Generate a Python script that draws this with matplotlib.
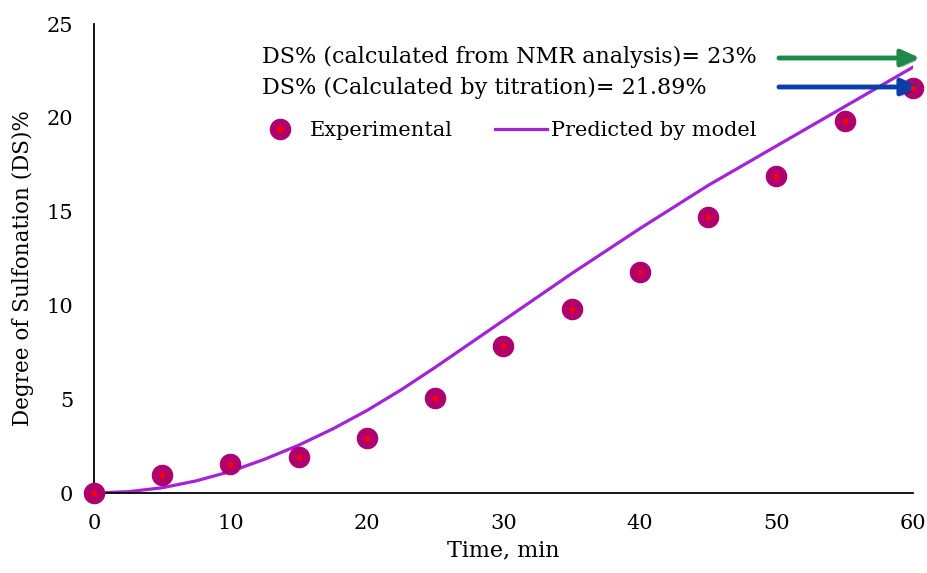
import numpy as np
import matplotlib.pyplot as plt
import matplotlib.patheffects as pe
from matplotlib.lines import Line2D

# experimental data
time_exp = [0, 5, 10, 15, 20, 25, 30, 35, 40, 45, 50, 55, 60]
ds_exp = [0, 0.96, 1.55, 1.92, 2.93, 5.06, 7.84, 9.81, 11.78, 14.71, 16.9, 19.83, 21.6]

# model curve
time_mod = [0, 2.5, 5, 7.5, 10, 12.5, 15, 17.5, 20, 22.5, 25, 27.5, 30,
            32.5, 35, 37.5, 40, 42.5, 45, 47.5, 50, 52.5, 55, 57.5, 60]
ds_mod = [0, 0.07, 0.28, 0.65, 1.15, 1.8, 2.55, 3.42, 4.4, 5.5, 6.7, 7.95, 9.2,
          10.45, 11.7, 12.9, 14.1, 15.25, 16.4, 17.45, 18.5, 19.55, 20.6, 21.65, 22.7]

plt.rcParams['font.family'] = ['DejaVu Serif']

fig = plt.figure(figsize=(9.28, 5.73), dpi=100)
ax = fig.add_axes([0.1013, 0.1396, 0.8825, 0.8185])

ax.plot(time_mod, ds_mod, color='#A224D6', lw=2.3, zorder=2)
ax.plot(time_exp, ds_exp, 'o', ms=14.5, color='#B0006E', mec='#B0006E', zorder=3, clip_on=False)
ax.plot(time_exp, ds_exp, 'o', ms=4.2, color='#FF0000', mec='none', zorder=4, clip_on=False)

ax.set_xlim(0, 60)
ax.set_ylim(0, 25)
ax.set_xticks(range(0, 61, 10))
ax.set_yticks(range(0, 26, 5))
ax.tick_params(length=0, labelsize=15)
ax.tick_params(axis='x', pad=15)
ax.tick_params(axis='y', pad=15)
for s in ['top', 'right']:
    ax.spines[s].set_visible(False)
for s in ['left', 'bottom']:
    ax.spines[s].set_linewidth(1.3)
ax.set_xlabel('Time, min', fontsize=16, labelpad=5)
ax.set_ylabel('Degree of Sulfonation (DS)%', fontsize=15.5)
ax.yaxis.set_label_coords(-0.073, 0.48)

ax.text(0.205, 0.93, 'DS% (calculated from NMR analysis)= 23%', transform=ax.transAxes,
        fontsize=16, va='center')
ax.text(0.205, 0.864, 'DS% (Calculated by titration)= 21.89%', transform=ax.transAxes,
        fontsize=16, va='center')
shadow = [pe.SimplePatchShadow(offset=(2, -2), alpha=0.25), pe.Normal()]
ax.annotate('', xy=(1.012, 0.9275), xytext=(0.833, 0.9275), xycoords='axes fraction',
            arrowprops=dict(arrowstyle='-|>,head_length=1.1,head_width=0.5', color='#1E8A4A', lw=3.5,
                            path_effects=shadow),
            annotation_clip=False)
ax.annotate('', xy=(1.012, 0.8657), xytext=(0.833, 0.8657), xycoords='axes fraction',
            arrowprops=dict(arrowstyle='-|>,head_length=1.1,head_width=0.5', color='#0B3EA8', lw=3.5,
                            path_effects=shadow),
            annotation_clip=False)

h1 = (Line2D([], [], marker='o', ls='none', ms=14.5, color='#B0006E'),
      Line2D([], [], marker='o', ls='none', ms=4.2, color='#FF0000'))
h2 = Line2D([], [], color='#A224D6', lw=2.3)
ax.legend([h1, h2], ['Experimental', 'Predicted by model'], ncol=2, frameon=False,
          fontsize=15, loc='center left', bbox_to_anchor=(0.195, 0.772),
          borderpad=0, borderaxespad=0,
          handlelength=2.5, handletextpad=0.2, columnspacing=2.0)

fig.savefig('out.png', dpi=100)
